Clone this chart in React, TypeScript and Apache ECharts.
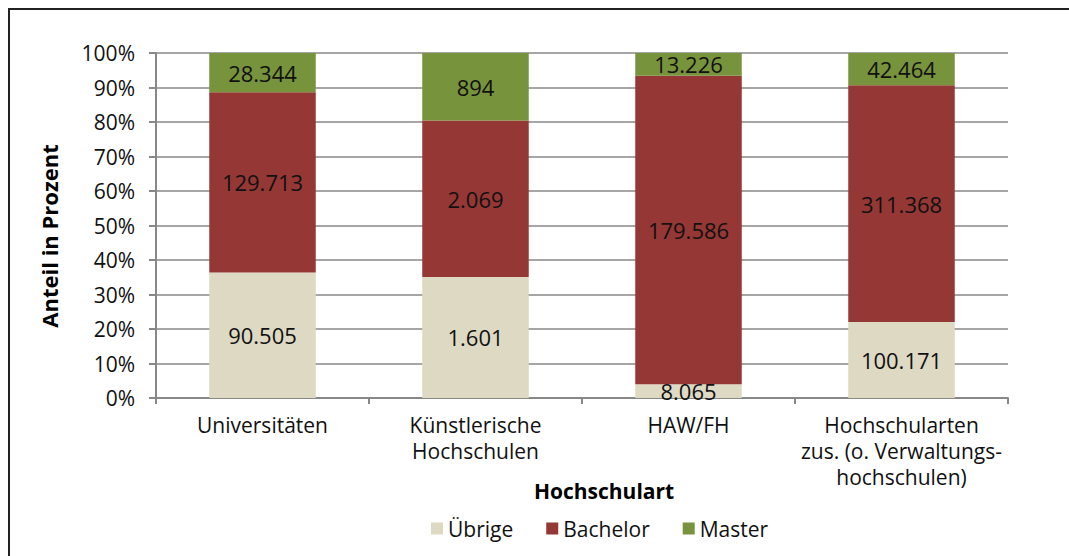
import React, { useEffect, useRef } from "react";
import * as echarts from "echarts";

const categories = [
  "Universitäten",
  "Künstlerische\nHochschulen",
  "HAW/FH",
  "Hochschularten\nzus. (o. Verwaltungs-\nhochschulen)",
];
const uebrige = [90505, 1601, 8065, 100171];
const bachelor = [129713, 2069, 179586, 311368];
const master = [28344, 894, 13226, 42464];
const yTicks = [0, 10, 20, 30, 40, 50, 60, 70, 80, 90, 100];

const FONT = "'Open Sans', 'Noto Sans', sans-serif";

function fmt(n: number): string {
  return n.toString().replace(/\B(?=(\d{3})+(?!\d))/g, ".");
}

export default function App() {
  const ref = useRef<HTMLDivElement>(null);
  useEffect(() => {
    if (!ref.current) return;
    const chart = echarts.init(ref.current, null, { renderer: "svg" });
    const totals = categories.map((_, i) => uebrige[i] + bachelor[i] + master[i]);
    const mk = (name: string, raw: number[], color: string) => ({
      name,
      type: "bar",
      stack: "a",
      barWidth: "50%",
      itemStyle: { color },
      data: raw.map((v, i) => ({ value: (v / totals[i]) * 100, raw: v })),
      label: {
        show: true,
        position: "inside",
        color: "#111",
        fontSize: 22,
        fontFamily: FONT,
        formatter: (p: any) => fmt(p.data.raw),
      },
    });
    chart.setOption({
      animation: false,
      textStyle: { fontFamily: FONT },
      grid: { left: 156, right: 61, top: 53, bottom: 158 },
      legend: {
        bottom: 12,
        left: 426,
        itemWidth: 12,
        itemHeight: 12,
        itemGap: 33,
        icon: "rect",
        textStyle: { fontSize: 21, color: "#111", fontFamily: FONT },
        data: ["Übrige", "Bachelor", "Master"],
      },
      xAxis: {
        type: "category",
        data: categories,
        axisLine: { lineStyle: { color: "#888", width: 2 } },
        axisTick: { show: true, length: 6, lineStyle: { color: "#888", width: 2 } },
        axisLabel: { interval: 0, fontSize: 21, color: "#111", lineHeight: 26, margin: 14, fontFamily: FONT },
      },
      yAxis: {
        type: "value",
        min: 0,
        max: 100,
        interval: 10,
        axisLine: { show: true, lineStyle: { color: "#888", width: 2 } },
        axisTick: { show: true, length: 7, lineStyle: { color: "#888", width: 2 } },
        axisLabel: {
          fontSize: 21,
          color: "#111",
          margin: 21,
          fontFamily: FONT,
          formatter: (v: number) => (yTicks.includes(v) ? v + "%" : ""),
        },
        splitLine: { lineStyle: { color: "#a6a6a6", width: 2 } },
      },
      series: [
        mk("Übrige", uebrige, "#DDD9C3"),
        mk("Bachelor", bachelor, "#953735"),
        mk("Master", master, "#77933C"),
      ],
      graphic: [
        { type: "line", shape: { x1: 8, y1: 9, x2: 1069, y2: 9 }, style: { stroke: "#222", lineWidth: 2 } },
        { type: "line", shape: { x1: 9, y1: 8, x2: 9, y2: 556 }, style: { stroke: "#222", lineWidth: 2 } },
        {
          type: "text",
          x: 49,
          y: 236,
          rotation: Math.PI / 2,
          style: {
            text: "Anteil in Prozent",
            fontSize: 22,
            fontWeight: "bold",
            fontFamily: FONT,
            fill: "#000",
            align: "center",
            verticalAlign: "middle",
          },
        },
        {
          type: "text",
          x: 604,
          y: 491,
          style: {
            text: "Hochschulart",
            fontSize: 21,
            fontWeight: "bold",
            fontFamily: FONT,
            fill: "#000",
            align: "center",
            verticalAlign: "middle",
          },
        },
      ],
    });
    return () => chart.dispose();
  }, []);
  return (
    <div
      ref={ref}
      style={{ position: "absolute", left: 0, top: 0, width: 1069, height: 556, background: "#fff" }}
    />
  );
}
